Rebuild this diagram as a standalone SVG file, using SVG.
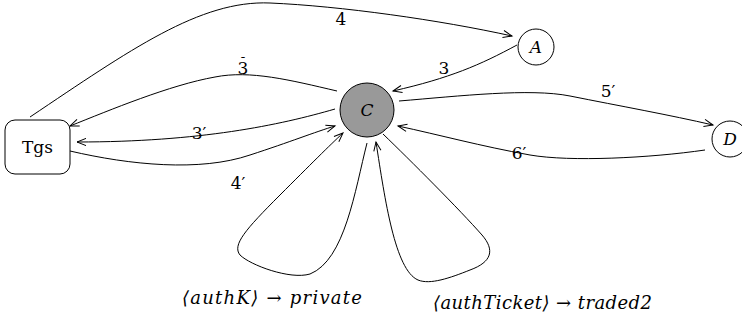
<svg xmlns="http://www.w3.org/2000/svg" width="742" height="323" viewBox="0 0 742 323">
  <style>
    .edge { fill: none; stroke: #000; stroke-width: 1; }
    .node { fill: #fff; stroke: #000; stroke-width: 1; }
    .hub { fill: #999; stroke: #000; stroke-width: 1; }
    .t { font-family: 'DejaVu Serif', 'Liberation Serif', serif; font-size: 17px; fill: #000; }
    .big { font-size: 18px; }
    .bar { font-size: 12px; }
    .it { font-style: italic; }
    .lbl { text-anchor: middle; }
  </style>
  <defs>
    <marker id="arrow" markerUnits="userSpaceOnUse" markerWidth="12" markerHeight="10" viewBox="-10 -5 12 10" refX="0" refY="0" orient="auto">
      <path d="M -9 -3.6 L 0 0 L -9 3.6" fill="none" stroke="#000" stroke-width="1"/>
    </marker>
  </defs>

  <!-- connectors -->
  <g id="edges">
    <path class="edge" marker-end="url(#arrow)" d="M 30 117 C 130 50, 200 0, 270 3 S 440 20, 512 36"/>
    <path class="edge" marker-end="url(#arrow)" d="M 517 45 C 480 65, 450 78, 393 91"/>
    <path class="edge" marker-end="url(#arrow)" d="M 337 91 C 290 80, 250 70, 215 77 C 170 85, 110 110, 70 126"/>
    <path class="edge" marker-end="url(#arrow)" d="M 335 109 C 280 125, 200 142, 77 142"/>
    <path class="edge" marker-end="url(#arrow)" d="M 70 151 C 130 165, 200 172, 250 155 C 290 142, 315 132, 335 126"/>
    <path class="edge" marker-end="url(#arrow)" d="M 399 101 C 460 96, 530 88, 570 96 C 620 106, 670 115, 713 125"/>
    <path class="edge" marker-end="url(#arrow)" d="M 705 150 C 650 158, 570 162, 530 155 C 480 146, 440 135, 398 126"/>
    <!-- self loop: authK -->
    <path class="edge" marker-end="url(#arrow)" d="M 367 143 C 355 190, 345 260, 310 274 C 290 280, 250 265, 240 255 C 232 245, 245 230, 280 195 C 310 165, 330 145, 343 133"/>
    <!-- self loop: authTicket -->
    <path class="edge" marker-end="url(#arrow)" d="M 383 134 C 410 160, 460 210, 482 235 C 495 250, 492 262, 470 270 C 450 278, 430 285, 418 280 C 395 270, 385 200, 376 142"/>
  </g>

  <!-- edge labels -->
  <g id="edge-labels">
    <text class="t lbl" x="341" y="25">4</text>
    <text class="t lbl" x="444" y="74">3</text>
    <!-- 3 with a bar: the macron is a raised tspan pulled back over the digit -->
    <text class="t" x="237.6" y="74">3<tspan class="bar" dx="-8.4" dy="-7">¯</tspan></text>
    <text class="t lbl" x="199" y="139">3′</text>
    <text class="t lbl" x="238" y="189">4′</text>
    <text class="t lbl" x="608" y="97">5′</text>
    <text class="t lbl" x="519" y="159">6′</text>
  </g>

  <g id="node-tgs">
    <rect class="node" x="5" y="120" width="65" height="54" rx="10" ry="10"/>
    <text class="t lbl" x="37.5" y="153">Tgs</text>
  </g>
  <g id="node-c">
    <circle class="hub" cx="367" cy="110" r="27"/>
    <text class="t lbl it" x="367" y="116">C</text>
  </g>
  <g id="node-a">
    <circle class="node" cx="536" cy="47" r="18"/>
    <text class="t lbl it" x="536" y="53">A</text>
  </g>
  <g id="node-d">
    <circle class="node" cx="730" cy="139" r="18"/>
    <text class="t lbl it" x="730" y="145">D</text>
  </g>

  <g id="loop-labels">
    <text class="t big it" x="182" y="304" textLength="180" lengthAdjust="spacing">⟨authK⟩ → private</text>
    <text class="t big it" x="433" y="309" textLength="219" lengthAdjust="spacing">⟨authTicket⟩ → traded2</text>
  </g>
</svg>
